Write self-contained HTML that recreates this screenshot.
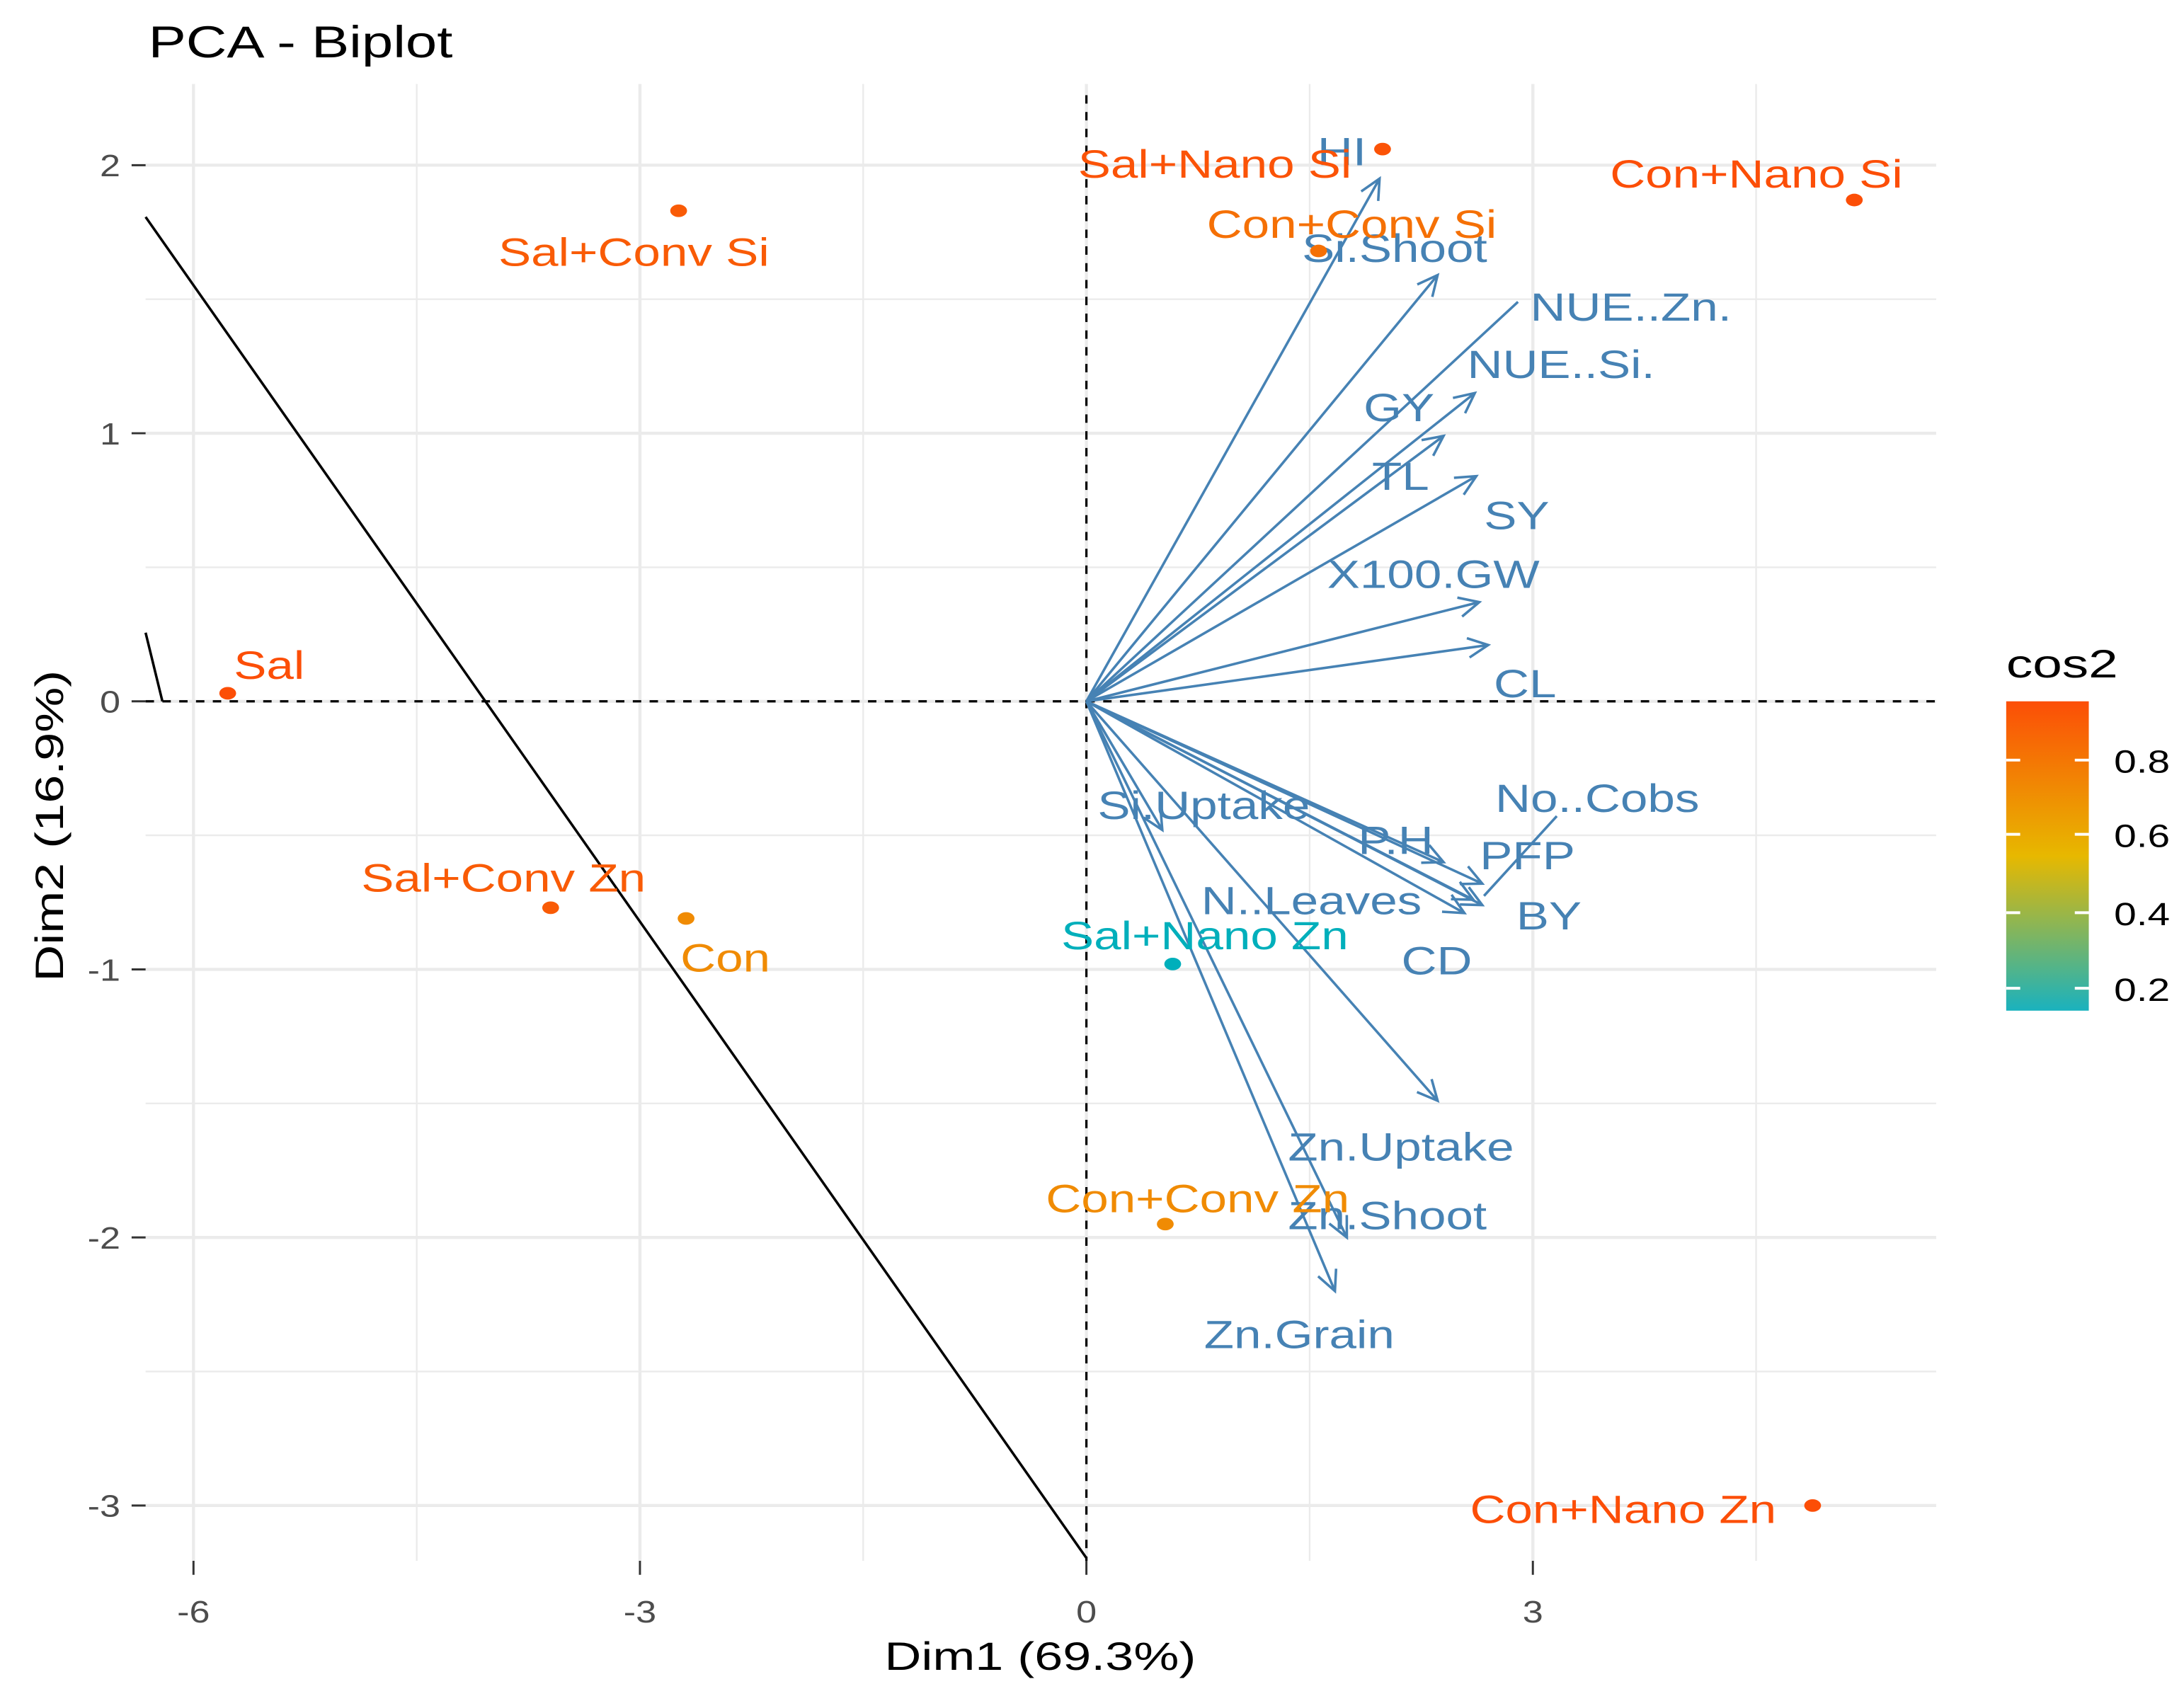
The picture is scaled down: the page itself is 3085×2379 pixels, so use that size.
<!DOCTYPE html>
<html><head><meta charset="utf-8"><style>
html,body{margin:0;padding:0;background:#fff;}
svg{display:block;font-family:"Liberation Sans",Arial,sans-serif;}
</style></head><body>
<svg id="chart" width="3085" height="2379" viewBox="0 0 1560 1203" xmlns="http://www.w3.org/2000/svg">
<defs>
<linearGradient id="cg" x1="0" y1="1" x2="0" y2="0">
<stop offset="0" stop-color="#1AB2BE"/><stop offset="0.5" stop-color="#E7B800"/><stop offset="1" stop-color="#FC4E07"/>
</linearGradient>
</defs>
<g id="grid"></g>
<g id="axes"></g>
<g id="marks"></g>
<text transform="translate(106,41) scale(1.26,1)" font-size="32">PCA - Biplot</text>
<text transform="translate(743,1193) scale(1.3,1)" font-size="28" text-anchor="middle">Dim1 (69.3%)</text>
<text transform="translate(45,590) rotate(-90) scale(1.3,1)" font-size="28" text-anchor="middle">Dim2 (16.9%)</text>
<g>
<text transform="translate(1433,484) scale(1.35,1)" font-size="28">cos2</text>
<rect x="1433" y="501" width="59" height="221" fill="url(#cg)"/>
<g stroke="#fff" stroke-width="2">
<line x1="1433" y1="543" x2="1443" y2="543"/><line x1="1482" y1="543" x2="1492" y2="543"/>
<line x1="1433" y1="596" x2="1443" y2="596"/><line x1="1482" y1="596" x2="1492" y2="596"/>
<line x1="1433" y1="652" x2="1443" y2="652"/><line x1="1482" y1="652" x2="1492" y2="652"/>
<line x1="1433" y1="706" x2="1443" y2="706"/><line x1="1482" y1="706" x2="1492" y2="706"/>
</g>
<g font-size="23" fill="#000">
<text transform="translate(1510,552) scale(1.25,1)">0.8</text>
<text transform="translate(1510,605) scale(1.25,1)">0.6</text>
<text transform="translate(1510,661) scale(1.25,1)">0.4</text>
<text transform="translate(1510,715) scale(1.25,1)">0.2</text>
</g>
</g>
</svg>
<script>
const xTicks=[-6,-3,0,3];
const yTicks=[2,1,0,-1,-2,-3];
const indNames=["Sal","Sal+Conv Si","Sal+Nano Si","Con+Conv Si","Con+Nano Si","Sal+Conv Zn","Con","Sal+Nano Zn","Con+Conv Zn","Con+Nano Zn"];
const indX=[-5.77,-2.74,1.99,1.56,5.16,-3.60,-2.69,0.58,0.53,4.88];
const indY=[0.03,1.83,2.06,1.68,1.87,-0.77,-0.81,-0.98,-1.95,-3.00];
const indCos2=[0.95,0.9,0.93,0.82,0.95,0.9,0.72,0.15,0.72,0.97];
const varNames=["HI","Si.Shoot","NUE..Zn.","NUE..Si.","GY","TL","X100.GW","CL","P.H","PFP","BY","CD","N..Leaves","Si.Uptake","Zn.Uptake","Zn.Shoot","Zn.Grain"];
const varX=[1.97,2.36,2.90,2.61,2.40,2.62,2.64,2.70,2.40,2.66,2.66,2.60,2.54,0.51,2.36,1.75,1.67];
const varY=[1.95,1.59,1.49,1.15,0.99,0.84,0.37,0.21,-0.60,-0.68,-0.76,-0.74,-0.79,-0.48,-1.49,-2.00,-2.20];

const NS="http://www.w3.org/2000/svg";
const sx=v=>776+v*106.3;
const sy=v=>501-v*191.5;
function mk(tag,attrs,parent){const e=document.createElementNS(NS,tag);for(const k in attrs)e.setAttribute(k,attrs[k]);parent.appendChild(e);return e;}
const grid=document.getElementById('grid'),axes=document.getElementById('axes'),marks=document.getElementById('marks');
const L=104,R=1383,T=60,B=1115;
for(let v=-4.5;v<=4.5;v+=3){const e=mk('line',{x1:sx(v),x2:sx(v),y1:T,y2:B,stroke:'#EBEBEB','stroke-width':1.2},grid);

}
for(let v=1.5;v>=-2.5;v-=1){const e=mk('line',{x1:L,x2:R,y1:sy(v),y2:sy(v),stroke:'#EBEBEB','stroke-width':1.2},grid);

}
xTicks.forEach(t=>{
const g=mk('line',{x1:sx(t),x2:sx(t),y1:T,y2:B,stroke:'#EBEBEB','stroke-width':2.2},grid);


mk('line',{x1:sx(t),x2:sx(t),y1:B,y2:B+10,stroke:'#333','stroke-width':1.5},axes);
const tx=mk('text',{transform:`translate(${sx(t)},${B+44}) scale(1.2,1)`,'font-size':22,fill:'#4D4D4D','text-anchor':'middle'},axes);tx.textContent=t;


});
yTicks.forEach(t=>{
const g=mk('line',{x1:L,x2:R,y1:sy(t),y2:sy(t),stroke:'#EBEBEB','stroke-width':2.2},grid);


mk('line',{x1:L-10,x2:L,y1:sy(t),y2:sy(t),stroke:'#333','stroke-width':1.5},axes);
const tx=mk('text',{transform:`translate(${L-18},${sy(t)+8}) scale(1.2,1)`,'font-size':22,fill:'#4D4D4D','text-anchor':'end'},axes);tx.textContent=t;


});
mk('line',{x1:L,x2:R,y1:sy(0),y2:sy(0),stroke:'#000','stroke-width':1.6,'stroke-dasharray':'6,6'},marks);
mk('line',{x1:sx(0),x2:sx(0),y1:T+8,y2:B,stroke:'#000','stroke-width':1.6,'stroke-dasharray':'6,6'},marks);
mk('line',{x1:104,y1:155,x2:776,y2:1113,stroke:'#000','stroke-width':1.8},marks);
mk('line',{x1:104,y1:452,x2:116,y2:501,stroke:'#000','stroke-width':1.8},marks);
const blue='#4682B4';
varNames.forEach((n,i)=>{
const x2=sx(varX[i]),y2=sy(varY[i]),x1=sx(0),y1=sy(0);
const ln=mk('line',{x1:x1,y1:y1,x2:x2,y2:y2,stroke:blue,'stroke-width':1.8},marks);


if(n==="NUE..Zn.")return;
const a=Math.atan2(y2-y1,x2-x1),h=16,s=0.45;
const p=`M${x2-h*Math.cos(a-s)},${y2-h*Math.sin(a-s)} L${x2},${y2} L${x2-h*Math.cos(a+s)},${y2-h*Math.sin(a+s)}`;
mk('path',{d:p,fill:'none',stroke:blue,'stroke-width':1.8},marks);
});
mk('line',{x1:1112,y1:583,x2:1060,y2:640,stroke:blue,'stroke-width':1.8},marks);
const vl=[["HI",941,118],["Si.Shoot",930,187],["NUE..Zn.",1093,229],["NUE..Si.",1048,270],["GY",974,301],["TL",980,350],["SY",1060,378],["X100.GW",948,420],["CL",1067,498],["No..Cobs",1068,580],["P.H",970,610],["PFP",1057,621],["BY",1083,664],["N..Leaves",858,653],["CD",1001,696],["Si.Uptake",784,585],["Zn.Uptake",920,829],["Zn.Shoot",920,878],["Zn.Grain",860,963]];
vl.forEach(v=>{const t=mk('text',{transform:`translate(${v[1]},${v[2]}) scale(1.25,1)`,'font-size':28,fill:blue},marks);t.textContent=v[0];

});
function col(c){const stops=[[0,[0,175,187]],[0.5,[231,184,0]],[1,[252,78,7]]];const f=Math.min(1,Math.max(0,(c-0.15)/0.8));
let k=f<0.5?0:1;const a=stops[k],b=stops[k+1],u=(f-a[0])/(b[0]-a[0]);return 'rgb('+a[1].map((v,j)=>Math.round(v+(b[1][j]-v)*u)).join(',')+')';}
const il={"Sal":[167,485],"Sal+Conv Si":[356,190],"Sal+Nano Si":[770,127],"Con+Conv Si":[862,170],"Con+Nano Si":[1150,134],"Sal+Conv Zn":[258,637],"Con":[486,694],"Sal+Nano Zn":[758,678],"Con+Conv Zn":[747,866],"Con+Nano Zn":[1050,1088]};
indNames.forEach((n,i)=>{
const c=col(indCos2[i]);
const p=mk('ellipse',{cx:sx(indX[i]),cy:sy(indY[i]),rx:6,ry:4.5,fill:c},marks);


const t=mk('text',{transform:`translate(${il[n][0]},${il[n][1]}) scale(1.25,1)`,'font-size':28,fill:c},marks);t.textContent=n;


});
</script>
</body></html>
